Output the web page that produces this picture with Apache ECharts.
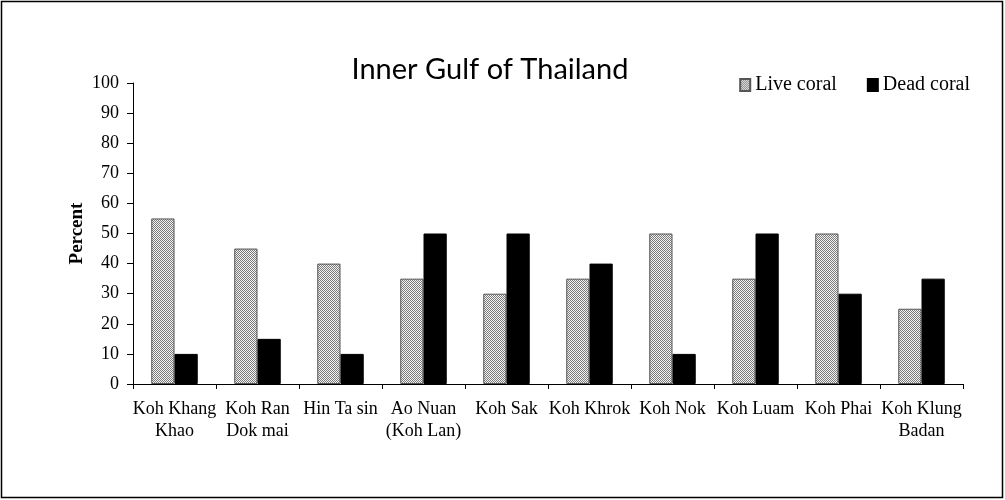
<!DOCTYPE html>
<html><head><meta charset="utf-8">
<script src="https://cdn.jsdelivr.net/npm/echarts@6/dist/echarts.min.js"></script>
<style>html,body{margin:0;padding:0;background:#fff}#c{width:1005px;height:500px}</style>
</head><body><div id="c"></div>
<script>
const categories = ['Koh Khang\nKhao','Koh Ran\nDok mai','Hin Ta sin','Ao Nuan\n(Koh Lan)','Koh Sak','Koh Khrok','Koh Nok','Koh Luam','Koh Phai','Koh Klung\nBadan'];
const liveCoral = [55,45,40,35,30,35,50,35,50,25];
const deadCoral = [10,15,10,50,50,40,10,50,30,35];
const yTicks = [0,10,20,30,40,50,60,70,80,90,100];

const cv = document.createElement('canvas');
cv.width = 2; cv.height = 2;
const cx = cv.getContext('2d');
cx.fillStyle = '#f4f4f4'; cx.fillRect(0,0,2,2);
cx.fillStyle = '#7a7a7a'; cx.fillRect(0,0,1,1); cx.fillRect(1,1,1,1);
const pattern = {image: cv, repeat: 'repeat'};

const chart = echarts.init(document.getElementById('c'));
const serif = '"Liberation Serif", "Times New Roman", serif';
chart.setOption({
  animation: false,
  title: {text: 'Inner Gulf of Thailand', left: 485, top: 50, textAlign: 'center',
    textStyle: {fontFamily: 'Lato, "Open Sans", sans-serif', fontSize: 29, fontWeight: 'normal', color: '#000'}},
  legend: {right: 30, top: 70, itemWidth: 10, itemHeight: 12, itemGap: 30,
    textStyle: {fontFamily: serif, fontSize: 20, color: '#000'},
    data: [{name: 'Live coral', icon: 'rect'}, {name: 'Dead coral', icon: 'rect'}]},
  grid: {left: 133, right: 42, top: 83, bottom: 116},
  xAxis: {type: 'category', data: categories,
    axisLine: {lineStyle: {color: '#000', width: 1}},
    axisTick: {show: true, length: 5, lineStyle: {color: '#000'}},
    axisLabel: {fontFamily: serif, fontSize: 18, color: '#000', margin: 14, lineHeight: 22, interval: 0}},
  yAxis: {type: 'value', min: 0, max: 100, interval: 10,
    name: 'Percent', nameLocation: 'middle', nameGap: 46, nameRotate: 90, nameMoveOverlap: false,
    nameTextStyle: {fontFamily: serif, fontSize: 19, fontWeight: 'bold', color: '#000'},
    splitLine: {show: false},
    axisLine: {show: true, lineStyle: {color: '#000'}},
    axisTick: {show: true, length: 6, lineStyle: {color: '#000'}},
    axisLabel: {fontFamily: serif, fontSize: 18, color: '#000', margin: 14,
      formatter: v => yTicks.includes(v) ? String(v) : ''}},
  series: [
    {name: 'Live coral', type: 'bar', data: liveCoral, barGap: '0%', barCategoryGap: '44%',
      itemStyle: {color: pattern, borderColor: '#555', borderWidth: 1}},
    {name: 'Dead coral', type: 'bar', data: deadCoral,
      itemStyle: {color: '#000', borderColor: '#000', borderWidth: 1}}
  ],
  graphic: [{type: 'rect', shape: {x: 1.5, y: 1.5, width: 1001, height: 496},
    style: {fill: 'none', stroke: '#000', lineWidth: 1.5}, silent: true}]
});
</script></body></html>
